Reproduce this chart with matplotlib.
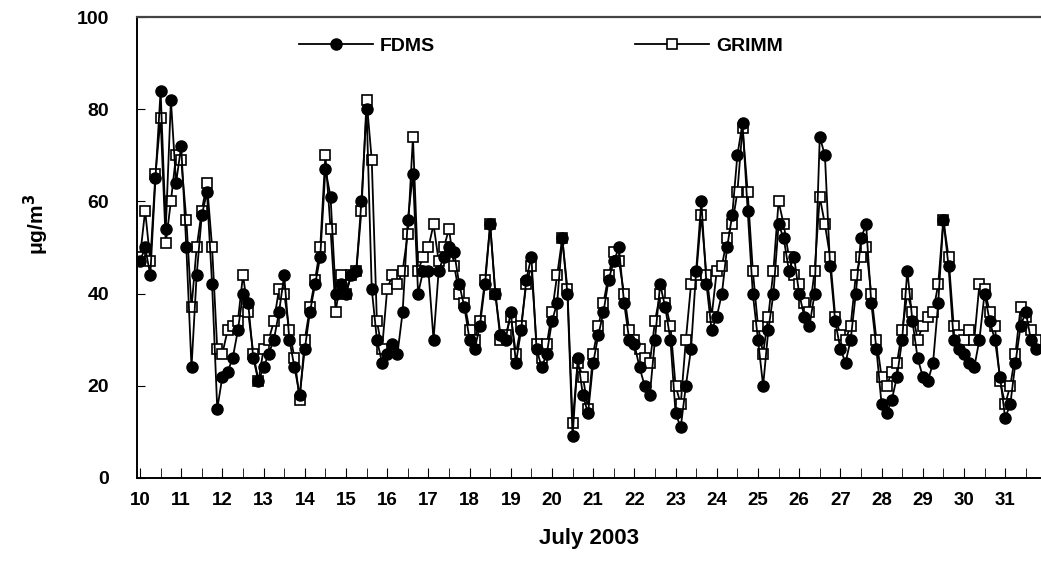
import numpy as np
import matplotlib.pyplot as plt
from matplotlib.ticker import MultipleLocator

# 3-hourly readings, 10 July 00:00 onward (8 per day)
fdms = [
    47, 50, 44, 65, 84, 54, 82, 64,   # 10
    72, 50, 24, 44, 57, 62, 42, 15,   # 11
    22, 23, 26, 32, 40, 38, 26, 21,   # 12
    24, 27, 30, 36, 44, 30, 24, 18,   # 13
    28, 36, 42, 48, 67, 61, 40, 42,   # 14
    40, 44, 45, 60, 80, 41, 30, 25,   # 15
    27, 29, 27, 36, 56, 66, 40, 45,   # 16
    45, 30, 45, 48, 50, 49, 42, 37,   # 17
    30, 28, 33, 42, 55, 40, 31, 30,   # 18
    36, 25, 32, 43, 48, 28, 24, 27,   # 19
    34, 38, 52, 40, 9, 26, 18, 14,    # 20
    25, 31, 36, 43, 47, 50, 38, 30,   # 21
    29, 24, 20, 18, 30, 42, 37, 30,   # 22
    14, 11, 20, 28, 45, 60, 42, 32,   # 23
    35, 40, 50, 57, 70, 77, 58, 40,   # 24
    30, 20, 32, 40, 55, 52, 45, 48,   # 25
    40, 35, 33, 40, 74, 70, 46, 34,   # 26
    28, 25, 30, 40, 52, 55, 38, 28,   # 27
    16, 14, 17, 22, 30, 45, 34, 26,   # 28
    22, 21, 25, 38, 56, 46, 30, 28,   # 29
    27, 25, 24, 30, 40, 34, 30, 22,   # 30
    13, 16, 25, 33, 36, 30, 28,       # 31
]
grimm = [
    48, 58, 47, 66, 78, 51, 60, 70,
    69, 56, 37, 50, 58, 64, 50, 28,
    27, 32, 33, 34, 44, 36, 27, 21,
    28, 30, 34, 41, 40, 32, 26, 17,
    30, 37, 43, 50, 70, 54, 36, 44,
    40, 44, 45, 58, 82, 69, 34, 28,
    41, 44, 42, 45, 53, 74, 45, 48,
    50, 55, 47, 50, 54, 46, 40, 38,
    32, 30, 34, 43, 55, 40, 30, 31,
    35, 27, 33, 42, 46, 29, 26, 29,
    36, 44, 52, 41, 12, 25, 22, 15,
    27, 33, 38, 44, 49, 47, 40, 32,
    30, 28, 26, 25, 34, 40, 38, 33,
    20, 16, 30, 42, 44, 57, 44, 35,
    45, 46, 52, 55, 62, 76, 62, 45,
    33, 27, 35, 45, 60, 55, 48, 44,
    42, 38, 36, 45, 61, 55, 48, 35,
    31, 30, 33, 44, 48, 50, 40, 30,
    22, 20, 23, 25, 32, 40, 36, 30,
    33, 35, 36, 42, 56, 48, 33, 31,
    30, 32, 30, 42, 41, 36, 33, 21,
    16, 20, 27, 37, 35, 32, 30,
]
days = list(range(10, 32))
series_names = ['FDMS', 'GRIMM']

t = 10 + np.arange(len(fdms)) / 8.0

plt.rcParams['font.family'] = ['Liberation Sans', 'DejaVu Sans']
plt.rcParams['font.weight'] = 'bold'

fig = plt.figure(figsize=(10.41, 5.67), dpi=100)
ax = fig.add_axes([0.1316, 0.157, 0.8684, 0.813])

ax.plot(t, grimm, color='black', lw=1.3, marker='s', ms=7.5,
        mfc='white', mec='black', mew=1.2, zorder=2, label=series_names[1])
ax.plot(t, fdms, color='black', lw=1.3, marker='o', ms=8,
        mfc='black', mec='black', zorder=3, label=series_names[0])

ax.set_xlim(9.927, 31.87)
ax.set_ylim(0, 100)
ax.set_xticks(days)
ax.set_xticklabels([str(d) for d in days], fontsize=13.5, fontweight='bold')
ax.xaxis.set_minor_locator(MultipleLocator(0.5))
ax.set_yticks(range(0, 101, 20))
ax.tick_params(axis='y', direction='in', length=6, pad=20, labelsize=14)
ax.tick_params(axis='x', which='both', direction='in', length=7, pad=10)

ax.spines['right'].set_visible(False)
ax.spines['top'].set_color('#444444')
ax.spines['top'].set_linewidth(1.6)
ax.spines['left'].set_linewidth(1.4)
ax.spines['bottom'].set_linewidth(1.4)

ax.set_xlabel('July 2003', fontsize=16, fontweight='bold', labelpad=14)
ax.set_ylabel('μg/m$^\\mathbf{3}$', fontsize=15, fontweight='bold')
ax.yaxis.set_label_coords(-0.095, 0.55)

h, l = ax.get_legend_handles_labels()
ax.legend(h[::-1], l[::-1], ncol=2, loc='center', bbox_to_anchor=(0.447, 0.937),
          frameon=False, fontsize=14, handlelength=3.8, columnspacing=10.3,
          handletextpad=0.35)

fig.savefig('out.png', dpi=100)
